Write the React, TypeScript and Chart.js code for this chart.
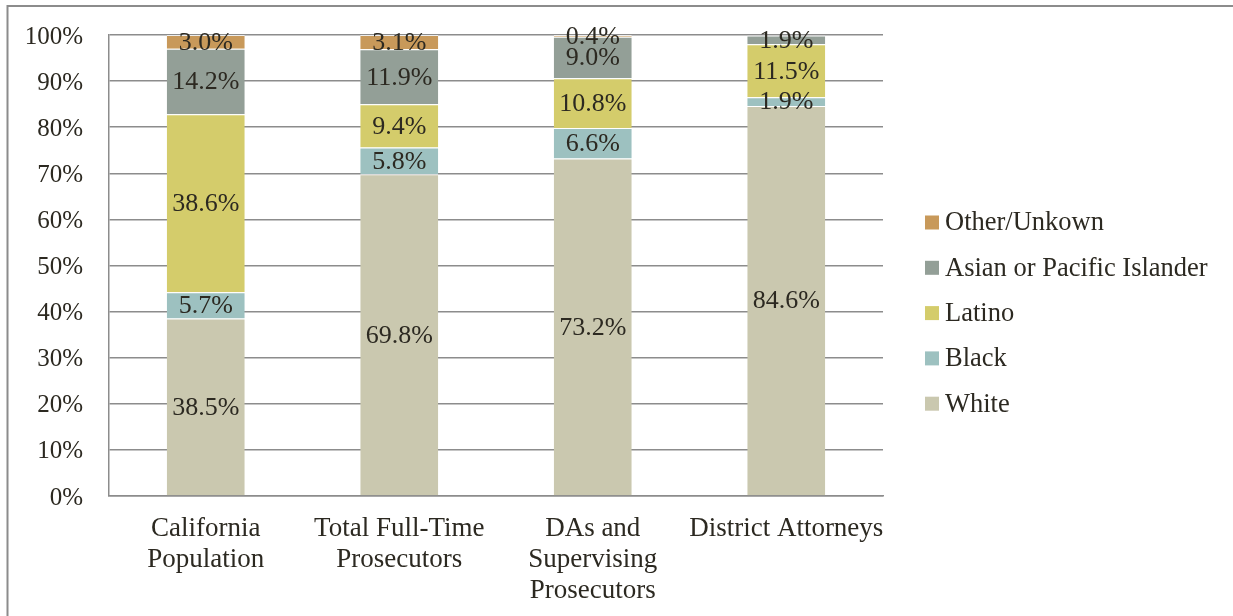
import React, { useEffect, useRef } from "react";
import { Chart, registerables } from "chart.js";

Chart.register(...registerables);

const categories: string[][] = [
  ["California", "Population"],
  ["Total Full-Time", "Prosecutors"],
  ["DAs and", "Supervising", "Prosecutors"],
  ["District Attorneys"],
];
const whiteValues = [38.5, 69.8, 73.2, 84.6];
const blackValues = [5.7, 5.8, 6.6, 1.9];
const latinoValues = [38.6, 9.4, 10.8, 11.5];
const asianValues = [14.2, 11.9, 9.0, 1.9];
const otherValues = [3.0, 3.1, 0.4, 0];
const seriesNames = ["White", "Black", "Latino", "Asian or Pacific Islander", "Other/Unkown"];
const seriesColors = ["#cac8af", "#9dc1c0", "#d4cc6b", "#939f97", "#c8995a"];
const yTickStep = 10;

const FONT = "'Liberation Serif', 'Times New Roman', serif";
const TEXT = "#2c2921";

const frame = {
  id: "frame",
  beforeDraw(chart: any) {
    const ctx = chart.ctx;
    ctx.save();
    ctx.strokeStyle = "#8c8c8c";
    ctx.lineWidth = 2;
    ctx.beginPath();
    ctx.moveTo(7.5, 700);
    ctx.lineTo(7.5, 6);
    ctx.lineTo(1300, 6);
    ctx.stroke();
    ctx.restore();
  },
};

const barLabels = {
  id: "barLabels",
  afterDatasetsDraw(chart: any) {
    const ctx = chart.ctx;
    ctx.save();
    ctx.font = `26px ${FONT}`;
    ctx.fillStyle = TEXT;
    ctx.textAlign = "center";
    ctx.textBaseline = "middle";
    chart.data.datasets.forEach((ds: any, di: number) => {
      const meta = chart.getDatasetMeta(di);
      meta.data.forEach((el: any, i: number) => {
        const v = ds.data[i];
        if (!v) return;
        ctx.fillText(v.toFixed(1) + "%", el.x, (el.y + el.base) / 2 + 1);
      });
    });
    ctx.restore();
  },
};

const sideLegend = {
  id: "sideLegend",
  afterDraw(chart: any) {
    const ctx = chart.ctx;
    const ds = chart.data.datasets;
    const n = ds.length;
    const step = 45.3;
    const firstY = 222.5;
    const boxX = 925;
    const box = 14;
    ctx.save();
    ctx.font = `26.5px ${FONT}`;
    ctx.textAlign = "left";
    ctx.textBaseline = "middle";
    for (let k = 0; k < n; k++) {
      const d = ds[n - 1 - k];
      const cy = firstY + k * step;
      ctx.fillStyle = d.backgroundColor;
      ctx.fillRect(boxX, cy - box / 2, box, box);
      ctx.fillStyle = TEXT;
      ctx.fillText(d.label, boxX + 20, cy + 1);
    }
    ctx.restore();
  },
};

export default function App() {
  const ref = useRef<HTMLCanvasElement | null>(null);
  useEffect(() => {
    if (!ref.current) return;
    const values = [whiteValues, blackValues, latinoValues, asianValues, otherValues];
    const chart = new Chart(ref.current, {
      type: "bar",
      data: {
        labels: categories as any,
        datasets: values.map((vals, i) => ({
          label: seriesNames[i],
          data: vals,
          backgroundColor: seriesColors[i],
          borderColor: "rgba(255,255,255,0.7)",
          borderWidth: { top: 1, bottom: 0, left: 0, right: 0 },
          borderSkipped: false,
          categoryPercentage: 1,
          barPercentage: 0.403,
        })),
      },
      options: {
        responsive: false,
        animation: false,
        layout: { padding: { left: 0, top: 35, right: 350, bottom: 0 } },
        plugins: {
          legend: { display: false },
          tooltip: { enabled: false },
        },
        scales: {
          x: {
            stacked: true,
            grid: { display: false, drawTicks: false },
            border: { display: true, color: "#8c8c8c", width: 1.5 },
            ticks: {
              color: TEXT,
              font: { family: FONT, size: 27, lineHeight: 1.15 },
              padding: 17,
              maxRotation: 0,
              autoSkip: false,
            },
            afterFit(scale: any) {
              scale.height = 120;
            },
          },
          y: {
            stacked: true,
            min: 0,
            max: 100,
            grid: { color: "#8c8c8c", lineWidth: 1.5, drawTicks: false },
            border: { display: true, color: "#8c8c8c", width: 1.5 },
            ticks: {
              stepSize: yTickStep,
              color: TEXT,
              font: { family: FONT, size: 25 },
              padding: 26,
              labelOffset: 2,
              callback: (v: any) => v + "%",
            },
            afterFit(scale: any) {
              scale.width = 109;
              scale.paddingTop = 0;
              scale.paddingBottom = 0;
            },
          },
        },
      },
      plugins: [frame, barLabels, sideLegend],
    });
    return () => chart.destroy();
  }, []);
  return (
    <div style={{ position: "absolute", left: 0, top: 0, width: 1233, height: 616 }}>
      <canvas ref={ref} width={1233} height={616} style={{ display: "block" }} />
    </div>
  );
}
